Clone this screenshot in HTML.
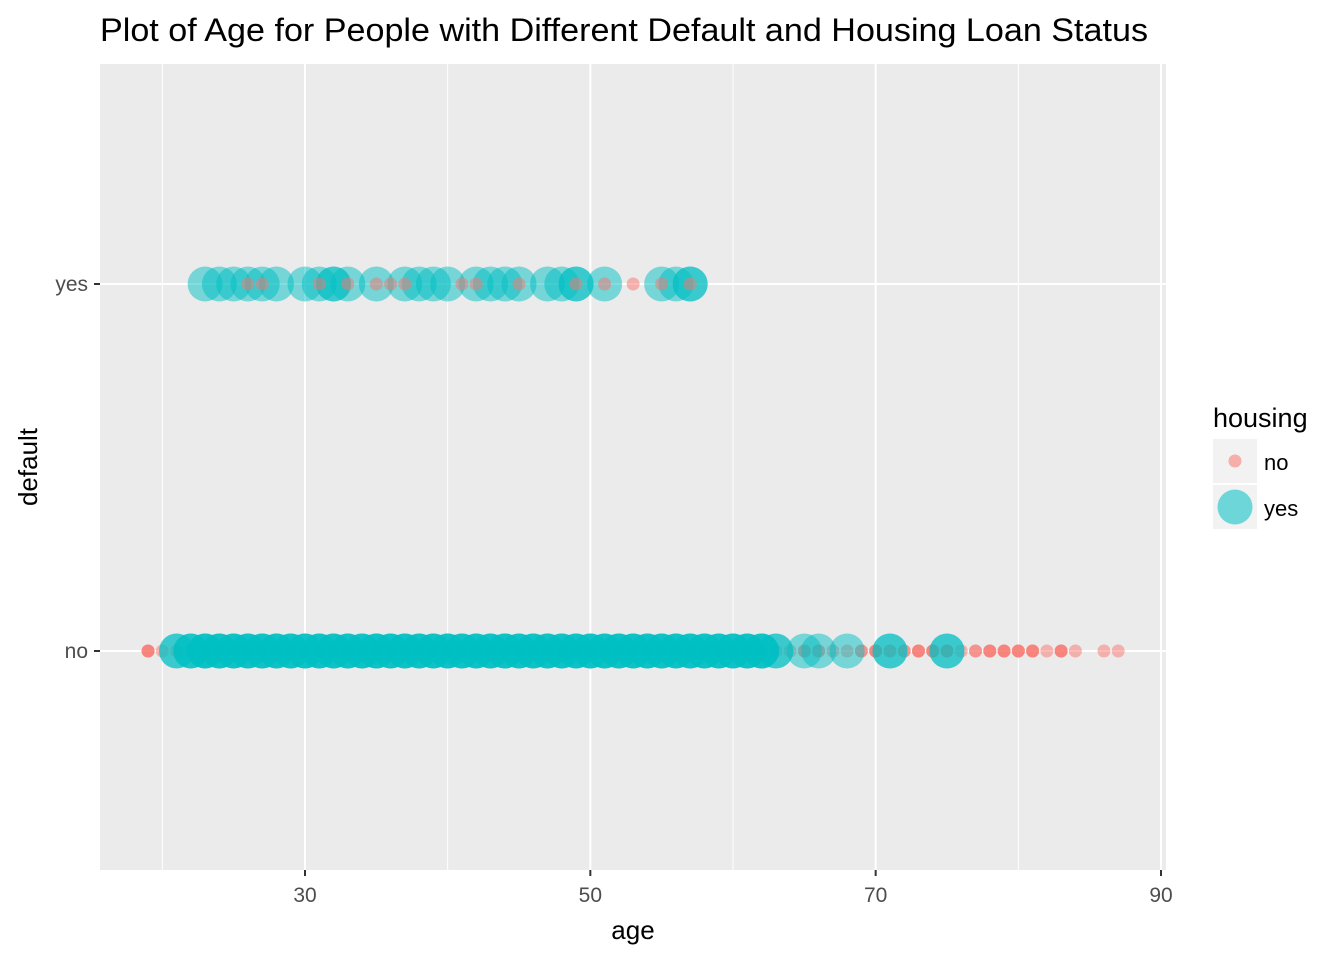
<!DOCTYPE html>
<html><head><meta charset="utf-8"><style>
body{margin:0;background:#fff;font-family:"Liberation Sans",sans-serif}
svg text{font-family:"Liberation Sans",sans-serif}
</style></head><body>
<svg id="chart" width="1344" height="960">
<text x="100" y="41" font-size="32" textLength="1048" lengthAdjust="spacingAndGlyphs" fill="#000">Plot of Age for People with Different Default and Housing Loan Status</text>
<rect x="100" y="64" width="1066" height="806" fill="#ebebeb"/>
<g id="grid"></g>
<g id="marks"></g>
<g id="axes"></g>
<text x="633" y="939" font-size="26" text-anchor="middle">age</text>
<text transform="translate(37,467) rotate(-90)" font-size="26" text-anchor="middle">default</text>
<g>
<text x="1213" y="427" font-size="27">housing</text>
<g>
<rect x="1213" y="439" width="44" height="44" fill="#f2f2f2"/>
<circle cx="1235" cy="461" r="6.5" fill="#f8766d" fill-opacity="0.55"/>
<text x="1264" y="470" font-size="22">no</text></g>
<g>
<rect x="1213" y="485" width="44" height="44" fill="#f2f2f2"/>
<circle cx="1235" cy="507" r="17.5" fill="#00bfc4" fill-opacity="0.55"/>
<text x="1264" y="516" font-size="22">yes</text></g>
</g>
</svg>
<script>
const xTicks=[30,50,70,90];
const xMinor=[20,40,60,80];
const yCats=["no","yes"];
const yesTeal=[23,24,25,26,27,28,30,31,32,32,33,35,37,38,39,40,42,43,44,45,47,48,49,49,51,55,56,57,57];
const yesRed=[26,27,31,33,35,36,37,41,42,45,49,51,53,55,57];
const noTeal=[21,22,23,24,25,26,27,28,29,30,31,32,33,34,35,36,37,38,39,40,41,42,43,44,45,46,47,48,49,50,51,52,53,54,55,56,57,58,59,60,61,62,63,65,66,68,71,75];
const noTealCounts={21:2,22:3,63:2,65:1,66:1,68:1,71:2,75:2};
const noRed=[19,20,21,22,23,24,25,26,27,28,29,30,31,32,33,34,35,36,37,38,39,40,41,42,43,44,45,46,47,48,49,50,51,52,53,54,55,56,57,58,59,60,61,62,63,64,65,66,67,68,69,70,71,72,73,74,75,76,77,78,79,80,81,82,83,84,86,87];
const noRedCounts={19:3,55:2,57:2,59:2,60:3,61:2,65:2,66:2,69:2,70:3,71:2,72:2,73:3,74:3,75:3,77:2,78:3,79:3,80:3,81:3,83:3};
const NS="http://www.w3.org/2000/svg";
const xs=a=>305+(a-30)*(1161-305)/60;
const ys=c=>c==="yes"?284:651;
function mk(tag,attrs,parent){const e=document.createElementNS(NS,tag);for(const k in attrs)e.setAttribute(k,attrs[k]);document.getElementById(parent).appendChild(e);return e;}
xMinor.forEach(t=>{const l=mk('line',{x1:xs(t),x2:xs(t),y1:64,y2:870,stroke:'#fff','stroke-width':1},'grid');

});
xTicks.forEach(t=>{const l=mk('line',{x1:xs(t),x2:xs(t),y1:64,y2:870,stroke:'#fff','stroke-width':2},'grid');


const tk=mk('line',{x1:xs(t),x2:xs(t),y1:870,y2:876,stroke:'#333','stroke-width':2},'axes');


const tx=mk('text',{x:xs(t),y:902,'font-size':21,'text-anchor':'middle',fill:'#4d4d4d'},'axes');tx.textContent=t;

});
yCats.forEach(c=>{const l=mk('line',{x1:100,x2:1166,y1:ys(c),y2:ys(c),stroke:'#fff','stroke-width':2},'grid');


const tk=mk('line',{x1:94,x2:100,y1:ys(c),y2:ys(c),stroke:'#333','stroke-width':2},'axes');


const tx=mk('text',{x:88,y:ys(c)+7,'font-size':21,'text-anchor':'end',fill:'#4d4d4d'},'axes');tx.textContent=c;

});
function dot(a,c,col,r,op){const e=mk('circle',{cx:xs(a),cy:ys(c),r:r,fill:col,'fill-opacity':op},'marks');

}
noRed.forEach(a=>{const n=noRedCounts[a]||1;for(let i=0;i<n;i++)dot(a,'no','#f8766d',6.5,0.5);});
noTeal.forEach(a=>{const n=noTealCounts[a]||4;for(let i=0;i<n;i++)dot(a,'no','#00bfc4',17.5,0.5);});
yesTeal.forEach(a=>dot(a,'yes','#00bfc4',17.5,0.5));
yesRed.forEach(a=>dot(a,'yes','#f8766d',6.5,0.5));
</script>
</body></html>
